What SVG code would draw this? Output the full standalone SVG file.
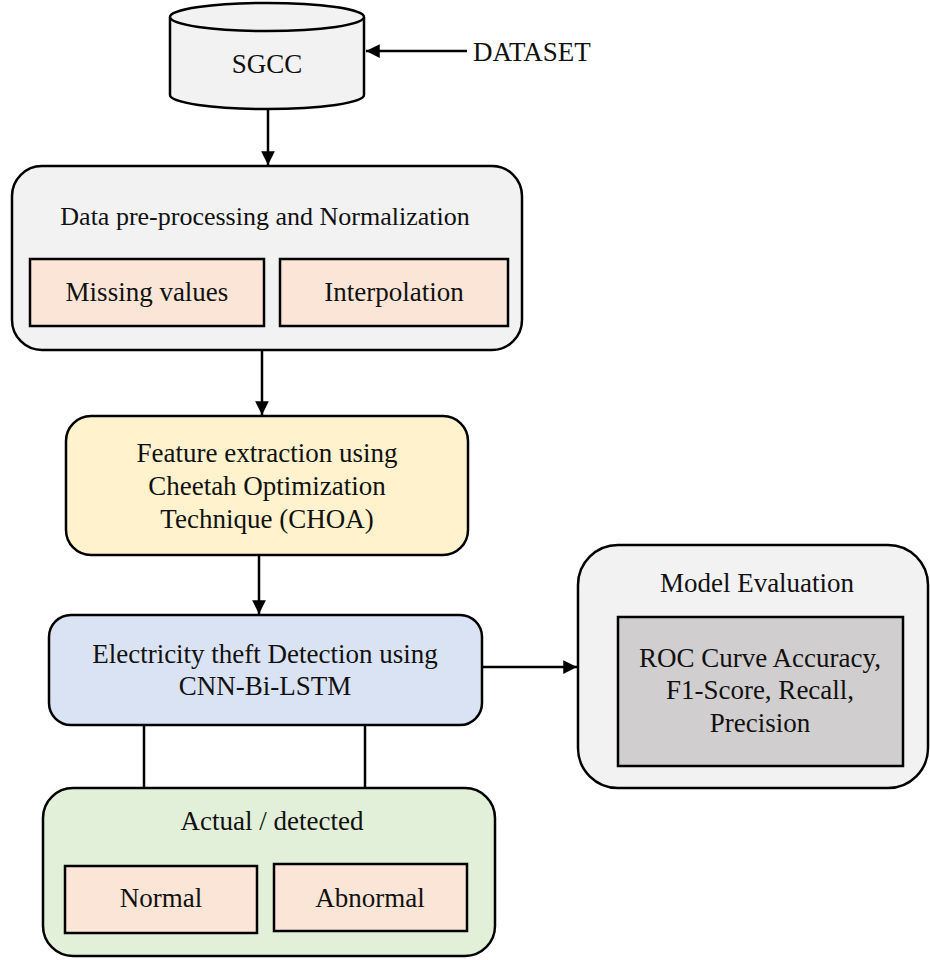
<svg xmlns="http://www.w3.org/2000/svg" width="930" height="960" viewBox="0 0 930 960">
<style>
text{font-family:"Liberation Serif","Times New Roman",serif;font-size:27px;fill:#111;text-anchor:middle}
.s{stroke:#000;stroke-width:2.5}
.ln{stroke:#000;stroke-width:2.5;fill:none}
</style>
<defs>
<marker id="ah" viewBox="0 0 10 10" refX="10" refY="5" markerWidth="5.5" markerHeight="5.5" markerUnits="strokeWidth" orient="auto"><path d="M0,0L10,5L0,10z" fill="#000"/></marker>
</defs>
<rect width="930" height="960" fill="#fff"/>
<g id="sgcc">
<path class="s" fill="#f2f2f2" d="M170,17 L170,95 A97,14 0 0 0 364,95 L364,17"/>
<ellipse class="s" fill="#f2f2f2" cx="267" cy="17" rx="97" ry="14"/>
<text x="267" y="73">SGCC</text>
</g>
<g id="dataset"><text x="473" y="61" style="text-anchor:start">DATASET</text></g>
<g id="preprocessing">
<rect class="s" fill="#f2f2f2" x="12" y="166" width="510" height="184" rx="30"/>
<text x="265" y="225" style="font-size:26px">Data pre-processing and Normalization</text>
<rect class="s" fill="#fbe5d6" x="30" y="259" width="234" height="67"/>
<text x="147" y="301">Missing values</text>
<rect class="s" fill="#fbe5d6" x="280" y="259" width="228" height="67"/>
<text x="394" y="301">Interpolation</text>
</g>
<g id="feature">
<rect class="s" fill="#fff2cc" x="66" y="416" width="402" height="139" rx="25"/>
<text x="267" y="462">Feature extraction using</text>
<text x="267" y="495">Cheetah Optimization</text>
<text x="267" y="528">Technique (CHOA)</text>
</g>
<g id="detection">
<rect class="s" fill="#dae3f3" x="49" y="615" width="433" height="110" rx="22"/>
<text x="265" y="663">Electricity theft Detection using</text>
<text x="265" y="695">CNN-Bi-LSTM</text>
</g>
<g id="evaluation">
<rect class="s" fill="#f2f2f2" x="578" y="545" width="350" height="243" rx="40"/>
<text x="757" y="592">Model Evaluation</text>
<rect class="s" fill="#d0cece" x="618" y="617" width="285" height="149"/>
<text x="760" y="667">ROC Curve Accuracy,</text>
<text x="760" y="699">F1-Score, Recall,</text>
<text x="760" y="732">Precision</text>
</g>
<g id="actual">
<rect class="s" fill="#e2f0d9" x="43" y="788" width="452" height="168" rx="30"/>
<text x="272" y="830">Actual / detected</text>
<rect class="s" fill="#fbe5d6" x="65" y="866" width="192" height="67"/>
<text x="161" y="907">Normal</text>
<rect class="s" fill="#fbe5d6" x="274" y="864" width="193" height="67"/>
<text x="370" y="907">Abnormal</text>
</g>
<g id="connectors">
<line class="ln" x1="467" y1="51" x2="366" y2="51" marker-end="url(#ah)"/>
<line class="ln" x1="268" y1="109" x2="268" y2="165" marker-end="url(#ah)"/>
<line class="ln" x1="262" y1="350" x2="262" y2="415" marker-end="url(#ah)"/>
<line class="ln" x1="259" y1="555" x2="259" y2="614" marker-end="url(#ah)"/>
<line class="ln" x1="482" y1="667" x2="577" y2="667" marker-end="url(#ah)"/>
<line class="ln" x1="144" y1="725" x2="144" y2="788"/>
<line class="ln" x1="365" y1="725" x2="365" y2="788"/>
</g>
</svg>
